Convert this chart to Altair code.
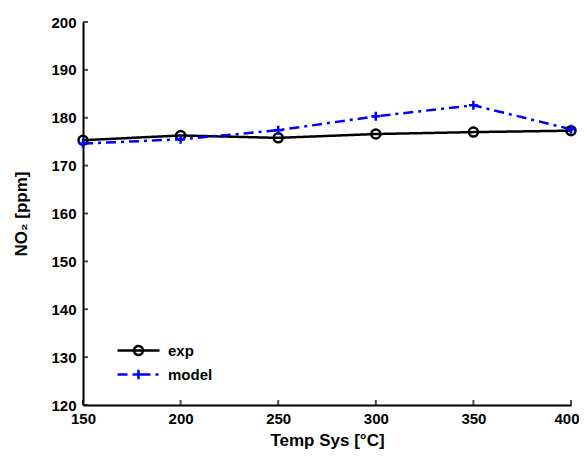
import altair as alt
import pandas as pd

# ---- data ----
temps = [150, 200, 250, 300, 350, 400]
exp_vals = [175.3, 176.3, 175.8, 176.6, 177.0, 177.3]
model_vals = [174.6, 175.5, 177.4, 180.3, 182.6, 177.6]
series_names = ["exp", "model"]
x_ticks = [150, 200, 250, 300, 350, 400]
y_ticks = [120, 130, 140, 150, 160, 170, 180, 190, 200]

df = pd.DataFrame({
    "temp": temps + temps,
    "no2": exp_vals + model_vals,
    "series": ["exp"] * len(temps) + ["model"] * len(temps),
})
xt = pd.DataFrame({"t": x_ticks})
yt = pd.DataFrame({"t": y_ticks})

FONT = "Liberation Sans"
colors = ["#000000", "#0000ff"]
dashes = [[1, 0], [10, 5, 3, 5]]

xscale = alt.Scale(domain=[150, 400], nice=False, zero=False)
yscale = alt.Scale(domain=[120, 200], nice=False, zero=False)


def cscale():
    return alt.Scale(domain=series_names, range=colors)


def dscale():
    return alt.Scale(domain=series_names, range=dashes)


xaxis = alt.Axis(values=x_ticks, tickSize=0, labelPadding=6, grid=False, labelFlush=False,
                 labelAlign={"expr": "datum.value >= 400 ? 'right' : 'center'"},
                 labelOffset={"expr": "datum.value >= 400 ? 8 : 0"},
                 title="Temp Sys [°C]", titlePadding=6, format="d")
yaxis = alt.Axis(values=y_ticks, tickSize=0, labelPadding=7, grid=False, labelFlush=False,
                 title="NO₂ [ppm]", titlePadding=20, format="d")

base = alt.Chart(df)

lines = base.mark_line(strokeWidth=2.5).encode(
    x=alt.X("temp:Q", scale=xscale, axis=xaxis),
    y=alt.Y("no2:Q", scale=yscale, axis=yaxis),
    color=alt.Color("series:N", scale=cscale(), legend=None),
    strokeDash=alt.StrokeDash("series:N", scale=dscale(), legend=None),
    order=alt.Order("temp:Q"),
)

points = base.mark_point(filled=False, strokeWidth=2.5, size=81, opacity=1).encode(
    x="temp:Q",
    y="no2:Q",
    color=alt.Color("series:N", scale=cscale(), legend=None),
    shape=alt.Shape("series:N", scale=alt.Scale(domain=series_names,
                    range=["circle", "M-1,0H1M0,-1V1"]), legend=None),
)

leg_shapes = [
    "M-4.25,0L1,0M-2.1875,0A0.5625,0.5625,0,1,1,-1.0625,0A0.5625,0.5625,0,1,1,-2.1875,0",
    "M-4.25,0L1,0M-1.625,-0.6L-1.625,0.6M-2.225,0L-1.025,0",
]


def leg():
    return alt.Legend(
        orient="none", legendX=59, legendY=319, title=None,
        symbolSize=256, symbolStrokeWidth=2.5, labelOffset=7, rowPadding=4,
        labelFont=FONT, labelFontSize=15, labelFontWeight="bold",
        labelColor="black", padding=0)


legend_layer = base.transform_filter("false").mark_point(
    filled=False, strokeWidth=2.5, opacity=1).encode(
    x="temp:Q",
    y="no2:Q",
    color=alt.Color("series:N", scale=cscale(), legend=leg()),
    shape=alt.Shape("series:N", scale=alt.Scale(domain=series_names, range=leg_shapes),
                    legend=leg()),
    strokeDash=alt.StrokeDash("series:N", scale=dscale(), legend=leg()),
)

xticks_layer = alt.Chart(xt).mark_tick(orient="vertical", size=5, thickness=2,
                                       color="black", yOffset=-2.5).encode(
    x=alt.X("t:Q"), y=alt.datum(120))
yticks_layer = alt.Chart(yt).mark_tick(orient="horizontal", size=5, thickness=2,
                                       color="black", xOffset=2.5).encode(
    y=alt.Y("t:Q"), x=alt.datum(150))

chart = alt.layer(xticks_layer, yticks_layer, lines, points, legend_layer).resolve_scale(
    shape="independent", color="independent", strokeDash="independent"
).properties(
    width=488, height=383,
    autosize=alt.AutoSizeParams(type="none"),
    padding={"left": 75, "top": 14, "right": 8, "bottom": 44},
    background="white",
).configure_view(stroke=None).configure_axis(
    domainColor="black", domainWidth=2,
    labelFont=FONT, labelFontSize=15, labelFontWeight="bold", labelColor="black",
    titleFont=FONT, titleFontSize=17, titleFontWeight="bold", titleColor="black",
)

chart.save("out.html", embed_options={"renderer": "svg", "actions": False})
